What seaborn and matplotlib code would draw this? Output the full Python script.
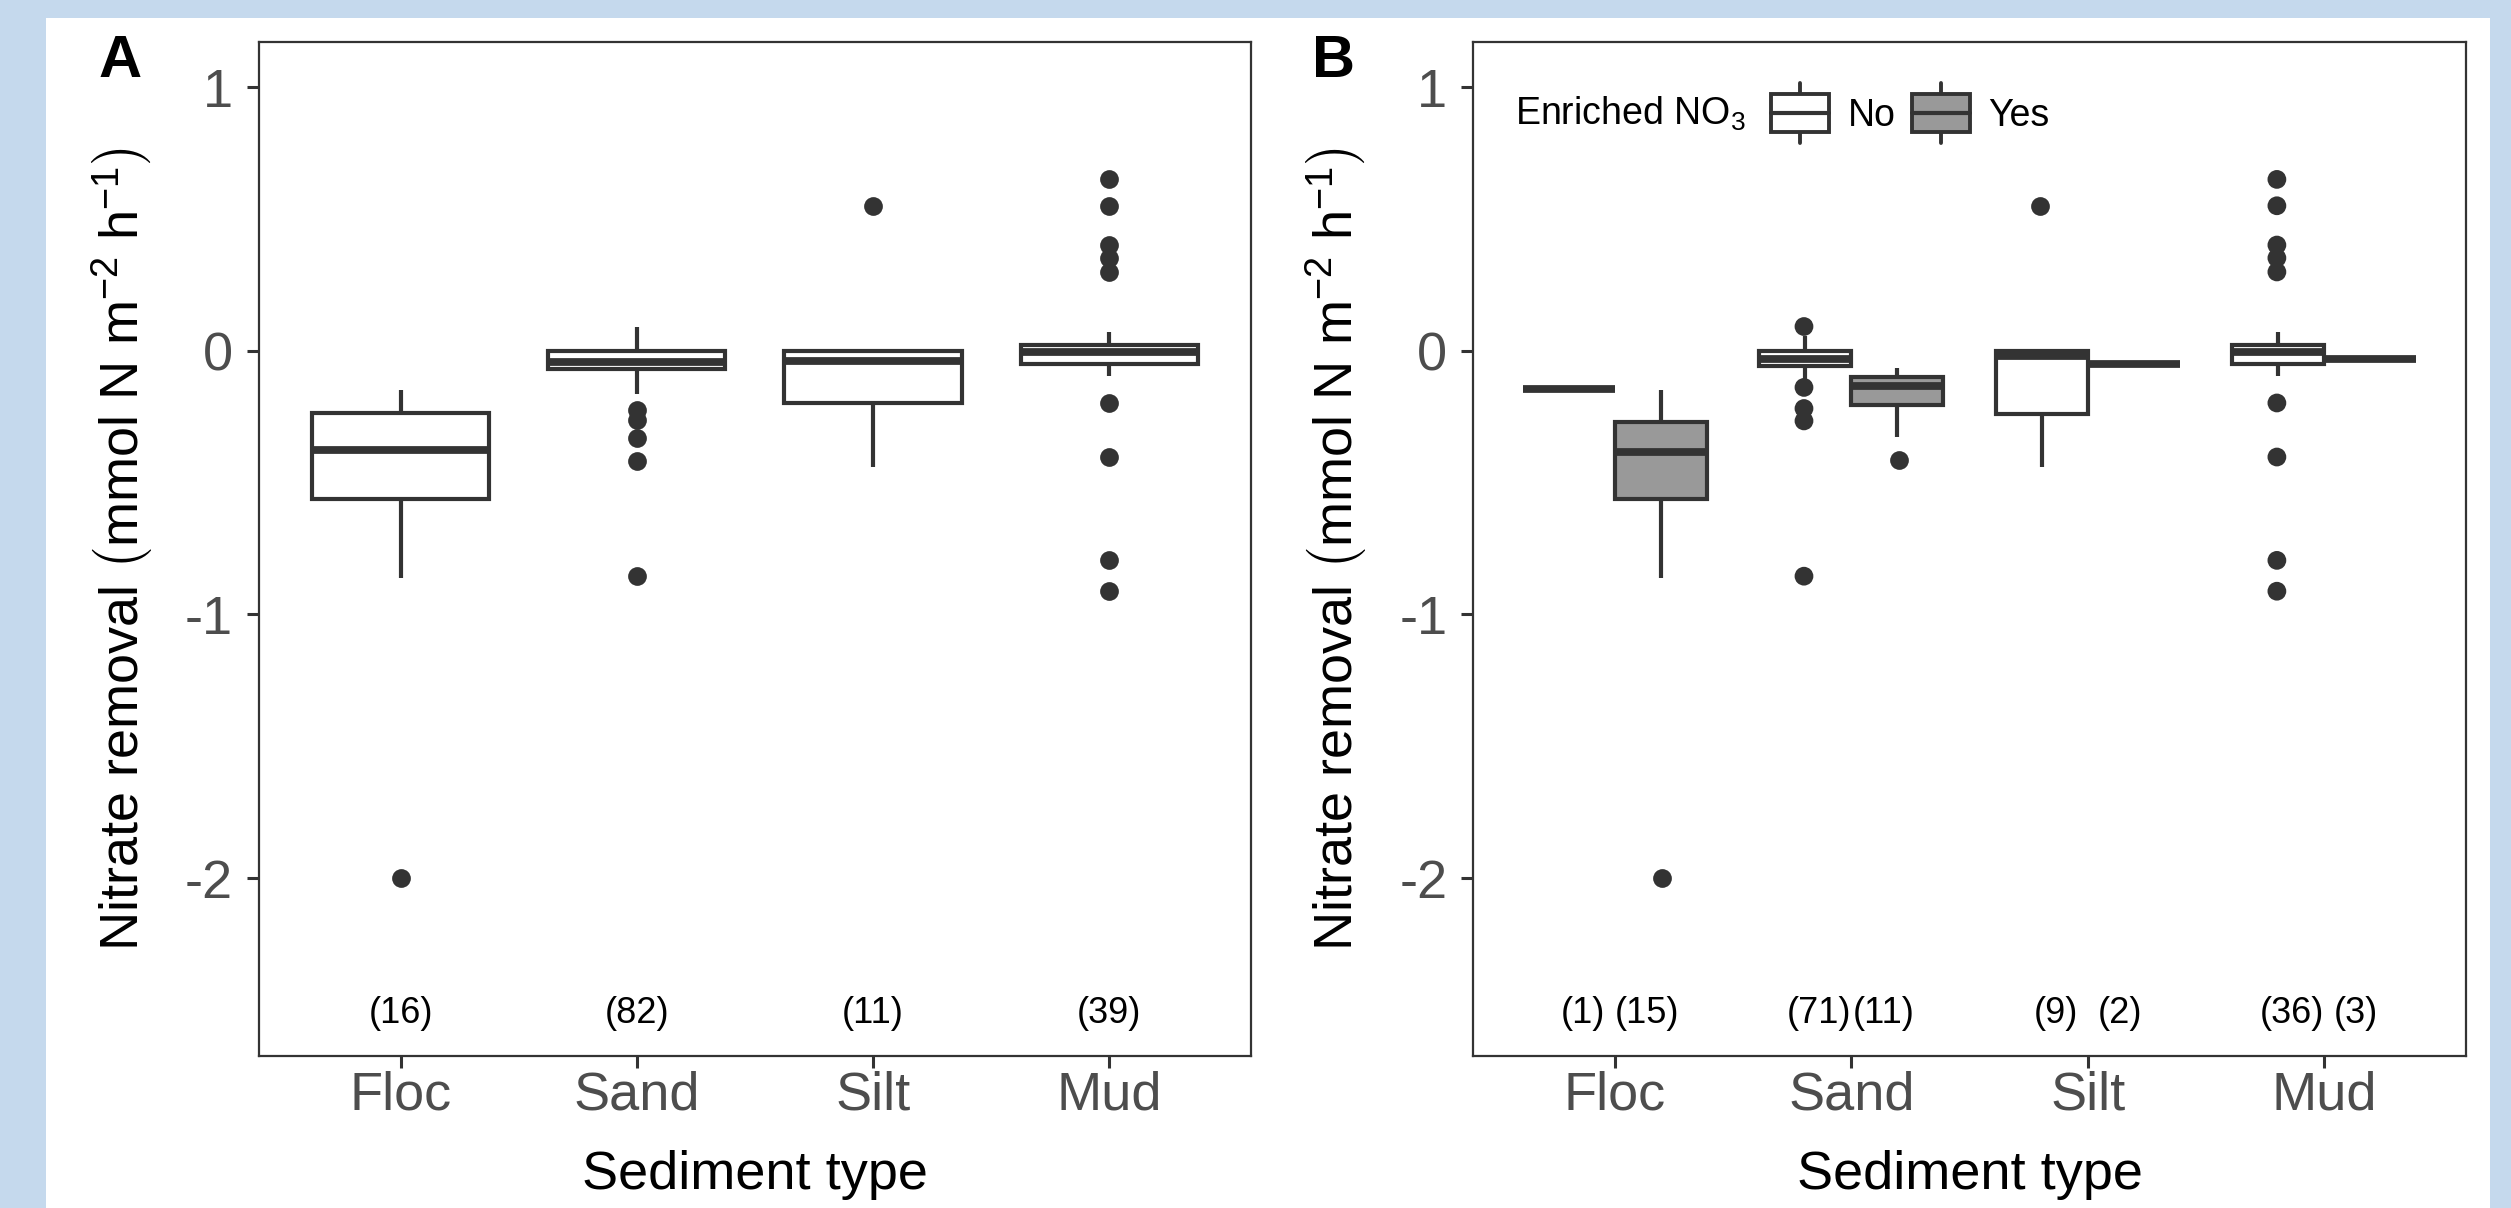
import numpy as np
import pandas as pd
import matplotlib
matplotlib.use("Agg")
import matplotlib.pyplot as plt
from matplotlib.patches import Rectangle, Patch
from matplotlib.lines import Line2D
from matplotlib.legend_handler import HandlerBase
import seaborn as sns

sns.set_theme(style="white")
plt.rcParams['font.family'] = ['Liberation Sans', 'DejaVu Sans']
plt.rcParams['mathtext.fontset'] = 'custom'
plt.rcParams['mathtext.rm'] = 'Liberation Sans'
plt.rcParams['mathtext.it'] = 'Liberation Sans:italic'
plt.rcParams['mathtext.bf'] = 'Liberation Sans:bold'
plt.rcParams['mathtext.default'] = 'regular'

ink = '#333333'

sediments = ['Floc', 'Sand', 'Silt', 'Mud']
enriched = ['No', 'Yes']
ytick_vals = [-2, -1, 0, 1]
ytick_labels = ['-2', '-1', '0', '1']

# panel A: lower whisker, Q1, median, Q3, upper whisker
a_low = [-0.862, -0.163, -0.441, -0.095]
a_q1 = [-0.561, -0.068, -0.197, -0.049]
a_med = [-0.377, -0.044, -0.037, -0.006]
a_q3 = [-0.236, 0.0, 0.0, 0.021]
a_high = [-0.148, 0.090, 0.0, 0.070]
a_out = [[-2.0],
         [-0.224, -0.262, -0.330, -0.418, -0.856],
         [0.550],
         [0.650, 0.550, 0.401, 0.352, 0.299, -0.198, -0.403, -0.795, -0.912]]
a_n = [16, 82, 11, 39]

# panel B, not enriched
no_low = [-0.144, -0.110, -0.440, -0.095]
no_q1 = [-0.144, -0.057, -0.239, -0.049]
no_med = [-0.144, -0.031, -0.018, -0.005]
no_q3 = [-0.144, 0.0, 0.0, 0.023]
no_high = [-0.144, 0.055, 0.0, 0.070]
no_out = [[],
          [0.092, -0.139, -0.219, -0.266, -0.855],
          [0.551],
          [0.650, 0.550, 0.401, 0.352, 0.299, -0.198, -0.403, -0.795, -0.912]]
no_n = [1, 71, 9, 36]

# panel B, enriched
yes_low = [-0.860, -0.328, -0.049, -0.032]
yes_q1 = [-0.562, -0.205, -0.049, -0.032]
yes_med = [-0.384, -0.133, -0.049, -0.032]
yes_q3 = [-0.270, -0.101, -0.049, -0.032]
yes_high = [-0.150, -0.066, -0.049, -0.032]
yes_out = [[-2.0], [-0.416], [], []]
yes_n = [15, 11, 2, 3]


def five_rows(lows, q1s, meds, q3s, highs, extra):
    rows = []
    for s, lo, a, m, b, hi in zip(sediments, lows, q1s, meds, q3s, highs):
        for v in (lo, a, m, b, hi):
            rows.append({'Sediment': s, 'value': v, **extra})
    return rows


def out_rows(outs, extra):
    rows = []
    for s, vals in zip(sediments, outs):
        for v in vals:
            rows.append({'Sediment': s, 'value': v, **extra})
    return rows


box_a = pd.DataFrame(five_rows(a_low, a_q1, a_med, a_q3, a_high, {}))
pts_a = pd.DataFrame(out_rows(a_out, {}))
box_b = pd.DataFrame(five_rows(no_low, no_q1, no_med, no_q3, no_high, {'Enriched': 'No'})
                     + five_rows(yes_low, yes_q1, yes_med, yes_q3, yes_high, {'Enriched': 'Yes'}))
pts_b = pd.DataFrame(out_rows(no_out, {'Enriched': 'No'}) + out_rows(yes_out, {'Enriched': 'Yes'}))


class BoxHandler(HandlerBase):
    def create_artists(self, legend, orig_handle, xdescent, ydescent, width, height, fontsize, trans):
        x0, y0 = -xdescent, -ydescent
        xm, ym = x0 + width / 2, y0 + height / 2
        box = Rectangle((x0, y0), width, height, facecolor=orig_handle.get_facecolor(),
                        edgecolor=ink, linewidth=2.8, transform=trans)
        med = Line2D([x0, x0 + width], [ym, ym], color=ink, linewidth=3.0, transform=trans)
        wt = Line2D([xm, xm], [y0 + height, y0 + height * 1.3], color=ink, linewidth=2.8, transform=trans)
        wb = Line2D([xm, xm], [y0 - height * 0.3, y0], color=ink, linewidth=2.8, transform=trans)
        return [wt, wb, box, med]


fig = plt.figure(figsize=(25.11, 12.08), dpi=100, facecolor='#c5d9ed')
fig.patches.append(Rectangle((46 / 2511, 0), (2490 - 46) / 2511, (1208 - 18) / 1208,
                             transform=fig.transFigure, facecolor='white', edgecolor='none',
                             zorder=-10))
ax1 = fig.add_axes([0.1031, 0.1258, 0.3951, 0.8394], zorder=2)
ax2 = fig.add_axes([0.5866, 0.1258, 0.3955, 0.8394], zorder=2)

box_kws = dict(saturation=1, whis=(0, 100), showfliers=False, showcaps=False,
               linewidth=3.0, linecolor=ink, medianprops={'linewidth': 5.6})

sns.boxplot(data=box_a, x='Sediment', y='value', order=sediments, color='white',
            width=0.75, ax=ax1, **box_kws)
sns.stripplot(data=pts_a, x='Sediment', y='value', order=sediments, jitter=False,
              color=ink, size=13.5, linewidth=0, ax=ax1)

sns.boxplot(data=box_b, x='Sediment', y='value', hue='Enriched', order=sediments,
            hue_order=enriched, palette={'No': 'white', 'Yes': '#999999'},
            width=0.78, dodge=True, legend=False, ax=ax2, **box_kws)
sns.stripplot(data=pts_b, x='Sediment', y='value', hue='Enriched', order=sediments,
              hue_order=enriched, palette={'No': ink, 'Yes': ink}, dodge=True,
              jitter=False, size=13.5, linewidth=0, legend=False, ax=ax2)

for i, n in enumerate(a_n):
    ax1.text(i, -2.512, f'({n})', ha='center', va='center', fontsize=26, color='black')
for i, (n1, n2) in enumerate(zip(no_n, yes_n)):
    ax2.text(i - 0.135, -2.512, f'({n1})', ha='center', va='center', fontsize=26, color='black')
    ax2.text(i + 0.135, -2.512, f'({n2})', ha='center', va='center', fontsize=26, color='black')

ylab = r'Nitrate removal $\left(mmol\ N\ m^{-2}\ h^{-1}_{\ }\right)$'
for ax in (ax1, ax2):
    ax.set_xlim(-0.6, 3.6)
    ax.set_ylim(-2.675, 1.171)
    ax.set_yticks(ytick_vals)
    ax.set_yticklabels(ytick_labels)
    ax.set_xlabel('Sediment type', fontsize=39, color='black')
    ax.set_ylabel(ylab, fontsize=39, color='black')
    ax.xaxis.set_label_coords(0.5, -0.093)
    ax.yaxis.set_label_coords(-0.105, 0.5)
    ax.set_facecolor('white')
    for sp in ax.spines.values():
        sp.set_visible(True)
        sp.set_color(ink)
        sp.set_linewidth(1.6)
    ax.tick_params(axis='both', which='major', direction='out', length=8.5, width=2.2,
                   color=ink, labelcolor='#4d4d4d', labelsize=39, bottom=True, left=True)
    ax.tick_params(axis='x', pad=2)
    ax.tick_params(axis='y', pad=10)

ax2.text(0.042, 0.929, 'Enriched NO$_3$', transform=ax2.transAxes, ha='left', va='center',
         fontsize=27, color='black')
handles = [Patch(facecolor='white'), Patch(facecolor='#999999')]
ax2.legend(handles, enriched, handler_map={Patch: BoxHandler()}, ncol=2, loc='center left',
           bbox_to_anchor=(0.30, 0.929), frameon=False, fontsize=27, handlelength=1.55,
           handleheight=1.17, handletextpad=0.5, columnspacing=0.43, borderpad=0, borderaxespad=0,
           labelcolor='black')

fig.text(0.048, 0.9487, 'A', fontsize=43, fontweight='bold', ha='center', va='center', color='black')
fig.text(0.531, 0.9487, 'B', fontsize=43, fontweight='bold', ha='center', va='center', color='black')

fig.savefig('out.png', dpi=100, facecolor=fig.get_facecolor())
